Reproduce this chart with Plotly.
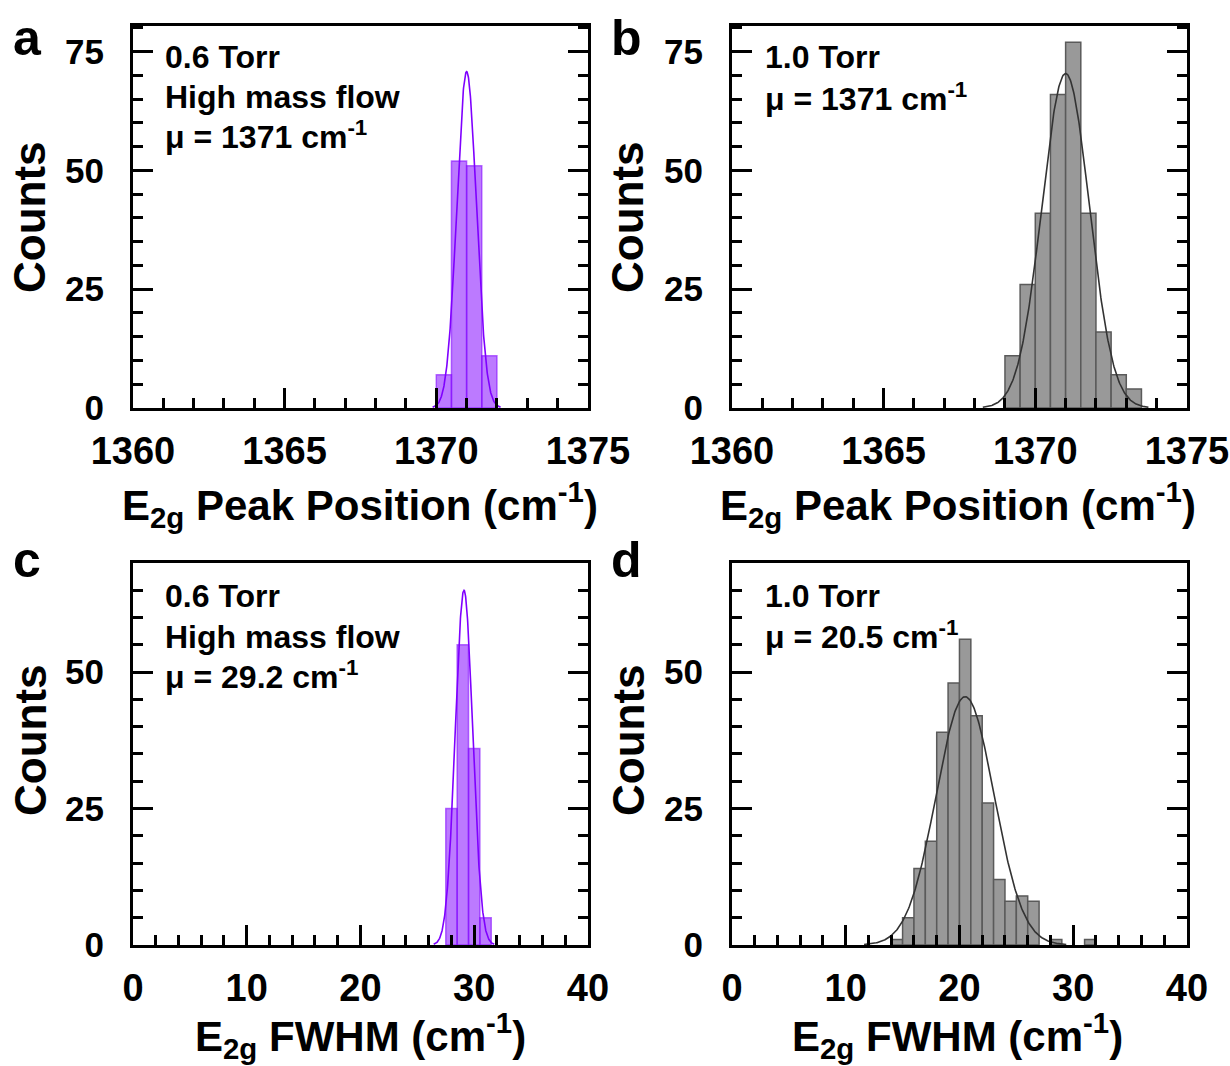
import numpy as np
import plotly.graph_objects as go

# ---------------- data ----------------
# Panel a: 0.6 Torr, E2g peak position histogram (bin width 0.5)
pos_a_centers = [1370.25, 1370.75, 1371.25, 1371.75]
pos_a_counts = [7, 52, 51, 11]
pos_a_fit = {"mu": 1371.0, "sigma": 0.32, "amp": 70.8}

# Panel b: 1.0 Torr, E2g peak position histogram (bin width 0.5)
pos_b_centers = [1369.25, 1369.75, 1370.25, 1370.75, 1371.25, 1371.75, 1372.25, 1372.75, 1373.25]
pos_b_counts = [11, 26, 41, 66, 77, 41, 16, 7, 4]
pos_b_fit = {"mu": 1371.0, "sigma": 0.78, "amp": 70.4}

# Panel c: 0.6 Torr, E2g FWHM histogram (bin width 1)
fw_c_centers = [28, 29, 30, 31]
fw_c_counts = [25, 55, 36, 5]
fw_c_fit = {"mu": 29.1, "sigma": 0.76, "amp": 65.0}

# Panel d: 1.0 Torr, E2g FWHM histogram (bin width 1)
fw_d_centers = [14.5, 15.5, 16.5, 17.5, 18.5, 19.5, 20.5, 21.5, 22.5, 23.5, 24.5, 25.5, 26.5, 28.5, 31.5]
fw_d_counts = [1, 5, 14, 19, 39, 48, 56, 42, 26, 12, 8, 9, 8, 1, 1]
fw_d_fit = {"mu": 20.5, "sigma": 2.54, "amp": 45.5}

pos_ticks = [1360, 1365, 1370, 1375]
fw_ticks = [0, 10, 20, 30, 40]
count_ticks_top = [0, 25, 50, 75]
count_ticks_bot = [0, 25, 50]

labels_a = ["0.6 Torr", "High mass flow", "μ = 1371 cm<sup>-1</sup>"]
labels_b = ["1.0 Torr", "μ = 1371 cm<sup>-1</sup>"]
labels_c = ["0.6 Torr", "High mass flow", "μ = 29.2 cm<sup>-1</sup>"]
labels_d = ["1.0 Torr", "μ = 20.5 cm<sup>-1</sup>"]

# ---------------- styling ----------------
FONT = "Liberation Sans, Arial, sans-serif"
PURPLE_FILL = "rgba(127,0,255,0.52)"
PURPLE_EDGE = "rgba(127,0,255,0.55)"
PURPLE_LINE = "#7f00ff"
GREY_FILL = "#999999"
GREY_EDGE = "#5a5a5a"
GREY_LINE = "#333333"

fig = go.Figure()

panels = [
    ("x", "y", pos_a_centers, pos_a_counts, 0.5, pos_a_fit, PURPLE_FILL, PURPLE_EDGE, PURPLE_LINE),
    ("x2", "y2", pos_b_centers, pos_b_counts, 0.5, pos_b_fit, GREY_FILL, GREY_EDGE, GREY_LINE),
    ("x3", "y3", fw_c_centers, fw_c_counts, 1.0, fw_c_fit, PURPLE_FILL, PURPLE_EDGE, PURPLE_LINE),
    ("x4", "y4", fw_d_centers, fw_d_counts, 1.0, fw_d_fit, GREY_FILL, GREY_EDGE, GREY_LINE),
]

for xa, ya, cen, cnt, w, fit, fill, edge, lc in panels:
    fig.add_trace(go.Bar(
        x=cen, y=cnt, width=w, xaxis=xa, yaxis=ya,
        marker=dict(color=fill, line=dict(color=edge, width=1.5)),
        showlegend=False, hoverinfo="skip",
    ))
    xs = np.linspace(fit["mu"] - 3.5 * fit["sigma"], fit["mu"] + 3.5 * fit["sigma"], 300)
    ys = fit["amp"] * np.exp(-(xs - fit["mu"]) ** 2 / (2 * fit["sigma"] ** 2))
    fig.add_trace(go.Scatter(
        x=xs, y=ys, mode="lines", xaxis=xa, yaxis=ya,
        line=dict(color=lc, width=1.6), showlegend=False, hoverinfo="skip",
    ))

X_LEFT = [0.1081, 0.4780]
X_RIGHT = [0.5951, 0.9650]
Y_TOP = [0.6173, 0.9756]
Y_BOT = [0.1135, 0.4719]

xtickfont = dict(family=FONT, size=38, color="black", weight="bold")
ytickfont = dict(family=FONT, size=35, color="black", weight="bold")


def xaxis_cfg(domain, rng, tickvals, minor_dtick, anchor):
    return dict(
        domain=domain, range=rng, anchor=anchor, automargin=False,
        tickmode="array", tickvals=tickvals,
        ticks="inside", ticklen=20, tickwidth=3, tickcolor="black",
        minor=dict(ticks="inside", dtick=minor_dtick, tick0=rng[0], ticklen=10,
                   tickwidth=3, tickcolor="black", showgrid=False),
        showline=True, linewidth=3, linecolor="black", mirror=True,
        showgrid=False, zeroline=False, tickfont=xtickfont,
        ticklabelstandoff=7, ticklabeloverflow="allow", fixedrange=True,
    )


def yaxis_cfg(domain, rng, tickvals, anchor):
    return dict(
        domain=domain, range=rng, anchor=anchor, automargin=False,
        tickmode="array", tickvals=tickvals,
        ticks="inside", ticklen=20, tickwidth=3, tickcolor="black",
        minor=dict(ticks="inside", dtick=5, tick0=0, ticklen=10,
                   tickwidth=3, tickcolor="black", showgrid=False),
        showline=True, linewidth=3, linecolor="black", mirror="allticks",
        showgrid=False, zeroline=False, tickfont=ytickfont,
        ticklabelstandoff=19, ticklabeloverflow="allow", fixedrange=True,
    )


fig.update_layout(
    width=1230, height=1066,
    margin=dict(l=0, r=0, t=0, b=0, autoexpand=False),
    paper_bgcolor="white", plot_bgcolor="white",
    bargap=0, barmode="overlay",
    font=dict(family=FONT, color="black"),
    xaxis=xaxis_cfg(X_LEFT, [1360, 1375], pos_ticks, 1, "y"),
    yaxis=yaxis_cfg(Y_TOP, [0, 80.4], count_ticks_top, "x"),
    xaxis2=xaxis_cfg(X_RIGHT, [1360, 1375], pos_ticks, 1, "y2"),
    yaxis2=yaxis_cfg(Y_TOP, [0, 80.4], count_ticks_top, "x2"),
    xaxis3=xaxis_cfg(X_LEFT, [0, 40], fw_ticks, 2, "y3"),
    yaxis3=yaxis_cfg(Y_BOT, [0, 70], count_ticks_bot, "x3"),
    xaxis4=xaxis_cfg(X_RIGHT, [0, 40], fw_ticks, 2, "y4"),
    yaxis4=yaxis_cfg(Y_BOT, [0, 70], count_ticks_bot, "x4"),
)

ann = []


def add_text(text, x, y, size, xanchor="center", yanchor="middle", angle=0):
    ann.append(dict(
        text=text, x=x, y=y, xref="paper", yref="paper",
        xanchor=xanchor, yanchor=yanchor, showarrow=False, textangle=angle,
        font=dict(family=FONT, size=size, color="black", weight="bold"),
    ))


H = 1066.0
W = 1230.0


def px(x):
    return x / W


def py(y):
    return 1 - y / H


# panel letters
add_text("a", px(27), py(38), 50)
add_text("b", px(626), py(38), 50)
add_text("c", px(27), py(560), 50)
add_text("d", px(626), py(560), 50)

# y axis titles
for xc, yc in [(30, 217), (628, 217), (30, 740), (628, 740)]:
    add_text("Counts", px(xc), py(yc), 44, angle=-90)

# x axis titles
xt_pos = "E<sub>2g</sub> Peak Position (cm<sup>-1</sup>)"
xt_fw = "E<sub>2g</sub> FWHM (cm<sup>-1</sup>)"
add_text(xt_pos, px(360), py(505), 42)
add_text(xt_pos, px(958), py(505), 42)
add_text(xt_fw, px(360), py(1035), 42)
add_text(xt_fw, px(958), py(1035), 42)

# in-panel labels
for lines, x0, ys in [
    (labels_a, 163, [57, 97, 135]),
    (labels_b, 763, [57, 97]),
    (labels_c, 163, [596, 637, 675]),
    (labels_d, 763, [596, 635]),
]:
    for t, yy in zip(lines, ys):
        add_text(t, px(x0), py(yy), 32, xanchor="left")

fig.update_layout(annotations=ann)

fig.write_html(
    "out.html",
    config={"displayModeBar": False, "staticPlot": True},
    post_script="document.body.style.margin='0';document.body.style.overflow='hidden';",
)
